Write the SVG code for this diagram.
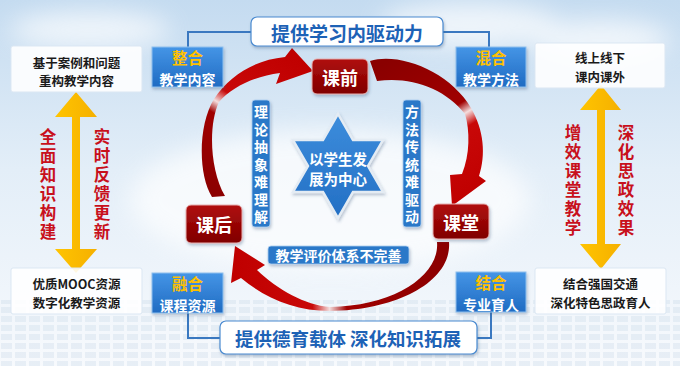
<svg xmlns="http://www.w3.org/2000/svg" width="680" height="376" viewBox="0 0 680 376">
<defs>
<linearGradient id="bg" x1="0" y1="0" x2="0" y2="1">
<stop offset="0" stop-color="#c4dbf0"/>
<stop offset="0.45" stop-color="#e3eef8"/>
<stop offset="1" stop-color="#f8fafd"/>
</linearGradient>
<linearGradient id="blueBox" x1="0" y1="0" x2="0" y2="1">
<stop offset="0" stop-color="#4595e6"/>
<stop offset="1" stop-color="#1f6bc2"/>
</linearGradient>
<linearGradient id="redBox" x1="0" y1="0" x2="0" y2="1">
<stop offset="0" stop-color="#b00c0c"/>
<stop offset="1" stop-color="#800000"/>
</linearGradient>
<linearGradient id="starG" x1="0" y1="0" x2="0" y2="1">
<stop offset="0" stop-color="#3d8ddc"/>
<stop offset="1" stop-color="#236fc4"/>
</linearGradient>
<linearGradient id="yel" x1="0" y1="0" x2="1" y2="0">
<stop offset="0" stop-color="#ffc400"/>
<stop offset="1" stop-color="#f5b000"/>
</linearGradient>
<linearGradient id="arc1" gradientUnits="userSpaceOnUse" x1="215" y1="200" x2="300" y2="60">
<stop offset="0" stop-color="#8a0000"/>
<stop offset="0.45" stop-color="#a00000"/>
<stop offset="0.52" stop-color="#f4dede"/>
<stop offset="0.6" stop-color="#c80808"/>
<stop offset="1" stop-color="#c00000"/>
</linearGradient>
<linearGradient id="arc2" gradientUnits="userSpaceOnUse" x1="372" y1="70" x2="455" y2="205">
<stop offset="0" stop-color="#8a0000"/>
<stop offset="0.47" stop-color="#a00000"/>
<stop offset="0.54" stop-color="#f4dede"/>
<stop offset="0.62" stop-color="#c80808"/>
<stop offset="1" stop-color="#c00000"/>
</linearGradient>
<linearGradient id="arc3" gradientUnits="userSpaceOnUse" x1="450" y1="250" x2="235" y2="250">
<stop offset="0" stop-color="#8a0000"/>
<stop offset="0.48" stop-color="#a00000"/>
<stop offset="0.56" stop-color="#f4dede"/>
<stop offset="0.64" stop-color="#c80808"/>
<stop offset="1" stop-color="#c00000"/>
</linearGradient>
<filter id="sh" x="-20%" y="-20%" width="140%" height="150%">
<feDropShadow dx="1" dy="2" stdDeviation="1.5" flood-color="#3a5a80" flood-opacity="0.35"/>
</filter>
<filter id="blur" x="-50%" y="-50%" width="200%" height="200%">
<feGaussianBlur stdDeviation="12"/>
</filter>
<pattern id="grid" width="14" height="9" patternUnits="userSpaceOnUse">
<rect x="1" y="1" width="11" height="6" fill="#b8cde0"/>
</pattern>
<style>
text{font-family:'Noto Sans CJK SC','Liberation Sans',sans-serif;font-weight:bold;text-anchor:middle;dominant-baseline:central}
.v{writing-mode:vertical-rl}
.wbox{fill:#ffffff;fill-opacity:0.88;stroke:#dbe7f3;stroke-width:1}
.wt{font-size:12.5px;fill:#1a1a1a}
.bbox{fill:url(#blueBox);stroke:#8fc0ee;stroke-width:1;filter:url(#sh)}
.gold{font-size:15.5px;fill:#ffc000}
.wb{font-size:14px;fill:#ffffff}
.rbox{fill:url(#redBox);stroke:#e6b0b0;stroke-width:1;filter:url(#sh)}
.rt{font-size:18px;fill:#ffffff}
.lbl{fill:#2a78c8;stroke:#a9cdf0;stroke-width:0.8;filter:url(#sh)}
.lt{font-size:14px;fill:#ffffff;letter-spacing:3.5px}
.red{font-size:16.5px;fill:#c8101c;letter-spacing:2.5px}
.title{fill:#ffffff;stroke:#4a8ad0;stroke-width:1.2;filter:url(#sh)}
.tt{fill:#1d62b6}
.conn{fill:none;stroke:#3a78c0;stroke-width:2}
</style>
</defs>

<rect x="0" y="0" width="680" height="376" fill="url(#bg)"/>
<g filter="url(#blur)" fill="#ffffff" opacity="0.7">
<ellipse cx="470" cy="25" rx="90" ry="22"/>
<ellipse cx="600" cy="40" rx="70" ry="20"/>
<ellipse cx="90" cy="30" rx="80" ry="18"/>
<ellipse cx="330" cy="200" rx="200" ry="70"/>
</g>
<rect x="0" y="300" width="680" height="66" fill="url(#grid)" opacity="0.25"/>
<rect x="0" y="366" width="680" height="10" fill="#ffffff"/>

<g id="connectors">
<path class="conn" d="M251,32 H188 V47"/>
<path class="conn" d="M443,32 H489 V47"/>
<path class="conn" d="M188,313 V338 H220"/>
<path class="conn" d="M491,312 V338 H477"/>
<path d="M212,197 C198,175 198,125 214,99 C230,75 255,60 285,57 L292,48 L313,71 L276,84 L280,73 C255,76 232,87 219,102 C208,125 210,170 225,196 Z" fill="url(#arc1)"/>
<path d="M370,61 C400,52 450,72 471,108 C484,130 486,155 479,176 L486,181 L452,206 L450,175 L462,174 C470,155 470,130 465,114 C445,88 410,76 377,81 Z" fill="url(#arc2)"/>
<path d="M449,242 C452,280 400,310 330,311 C295,311 265,298 241,278 L231,283 L235,246 L265,265 L257,270 C278,290 305,305 330,307 C395,306 440,275 437,242 Z" fill="url(#arc3)"/>
<polygon points="76,92 97,117 80,117 80,249 97,249 76,273 55,249 72,249 72,117 55,117" fill="url(#yel)"/>
<polygon points="601,85 621,110 605,110 605,244 621,244 601,269 580,244 597,244 597,110 580,110" fill="url(#yel)"/>
</g>

<g id="n-title-top">
<rect class="title" x="251" y="17" width="192" height="29" rx="6"/>
<text class="tt" x="347" y="32" font-size="19">提供学习内驱动力</text>
</g>
<g id="n-title-bottom">
<rect class="title" x="220" y="321" width="257" height="33" rx="6"/>
<text class="tt" x="348" y="338" font-size="18.5">提供德育载体 深化知识拓展</text>
</g>

<g id="n-zhenghe">
<rect class="bbox" x="152" y="47" width="71" height="40"/>
<text class="gold" x="187.5" y="56.5">整合</text>
<text class="wb" x="187.5" y="78.5">教学内容</text>
</g>
<g id="n-hunhe">
<rect class="bbox" x="456" y="47" width="70" height="40"/>
<text class="gold" x="491" y="56.5">混合</text>
<text class="wb" x="491" y="78.5">教学方法</text>
</g>
<g id="n-ronghe">
<rect class="bbox" x="152" y="273" width="71" height="40"/>
<text class="gold" x="187.5" y="282.5">融合</text>
<text class="wb" x="187.5" y="304.5">课程资源</text>
</g>
<g id="n-jiehe">
<rect class="bbox" x="456" y="272" width="70" height="40"/>
<text class="gold" x="491" y="281.5">结合</text>
<text class="wb" x="491" y="303.5">专业育人</text>
</g>

<g id="n-box-tl">
<rect class="wbox" x="11" y="46" width="131" height="46" rx="2"/>
<text class="wt" x="76.5" y="62">基于案例和问题</text>
<text class="wt" x="76.5" y="80">重构教学内容</text>
</g>
<g id="n-box-tr">
<rect class="wbox" x="535" y="43" width="130" height="45" rx="2"/>
<text class="wt" x="600" y="57">线上线下</text>
<text class="wt" x="600" y="76">课内课外</text>
</g>
<g id="n-box-bl">
<rect class="wbox" x="11" y="268" width="131" height="46" rx="2"/>
<text class="wt" x="76.5" y="283">优质MOOC资源</text>
<text class="wt" x="76.5" y="302">数字化教学资源</text>
</g>
<g id="n-box-br">
<rect class="wbox" x="535" y="268" width="131" height="46" rx="2"/>
<text class="wt" x="600.5" y="283">结合强国交通</text>
<text class="wt" x="600.5" y="302">深化特色思政育人</text>
</g>

<g id="n-red-left">
<text class="red v" x="48" y="185.5">全面知识构建</text>
<text class="red v" x="102" y="185.5">实时反馈更新</text>
</g>
<g id="n-red-right">
<text class="red v" x="573" y="181">增效课堂教学</text>
<text class="red v" x="626" y="181">深化思政效果</text>
</g>

<g id="n-kq">
<rect class="rbox" x="312" y="59" width="56" height="35" rx="5"/>
<text class="rt" x="340" y="76.5">课前</text>
</g>
<g id="n-kh">
<rect class="rbox" x="186" y="205" width="56" height="38" rx="5"/>
<text class="rt" x="214" y="224">课后</text>
</g>
<g id="n-kt">
<rect class="rbox" x="433" y="204" width="56" height="35" rx="5"/>
<text class="rt" x="461" y="221.5">课堂</text>
</g>

<g id="n-star">
<polygon points="338,114 353,140 383,140 368,166 383,192 353,192 338,218 323,192 293,192 308,166 293,140 323,140" fill="url(#starG)" stroke="#e4ecf4" stroke-width="2.5" filter="url(#sh)"/>
<text x="338" y="158" font-size="14.5" fill="#ffffff">以学生发</text>
<text x="338" y="178" font-size="14.5" fill="#ffffff">展为中心</text>
</g>

<g id="n-label-left">
<rect class="lbl" x="252" y="100" width="18" height="127" rx="3"/>
<text class="lt v" x="261" y="166">理论抽象难理解</text>
</g>
<g id="n-label-right">
<rect class="lbl" x="403" y="100" width="18" height="127" rx="3"/>
<text class="lt v" x="412" y="166">方法传统难驱动</text>
</g>
<g id="n-label-bottom">
<rect class="lbl" x="268" y="246" width="141" height="18" rx="3"/>
<text class="wb" x="338.5" y="255" font-size="14.5">教学评价体系不完善</text>
</g>
</svg>
